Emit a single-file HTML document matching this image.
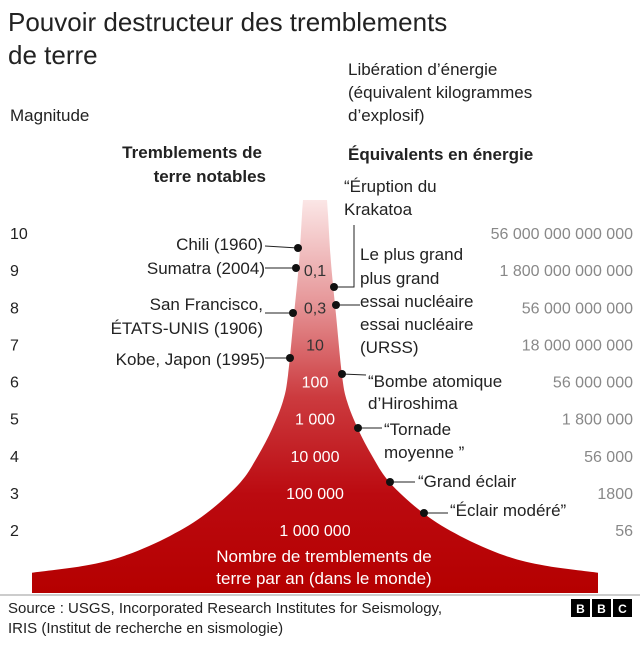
<!DOCTYPE html>
<html><head><meta charset="utf-8">
<style>
body{margin:0;background:#fff;}
svg text{font-family:"Liberation Sans",sans-serif;}
</style></head>
<body>
<svg width="640" height="643" viewBox="0 0 640 643">
<defs>
<linearGradient id="g" x1="0" y1="0" x2="0" y2="1">
<stop offset="0" stop-color="#fbe6e6"/>
<stop offset="0.25" stop-color="#e79a9c"/>
<stop offset="0.5" stop-color="#cc3b3f"/>
<stop offset="0.75" stop-color="#bb0a10"/>
<stop offset="1" stop-color="#b50000"/>
</linearGradient>
</defs>
<text x="8" y="31" font-size="26" fill="#222">Pouvoir destructeur des tremblements</text>
<text x="8" y="64" font-size="26" fill="#222">de terre</text>
<text x="10" y="121" font-size="17" fill="#222">Magnitude</text>
<g font-size="17" fill="#222">
<text x="348" y="75">Libération d’énergie</text>
<text x="348" y="98">(équivalent kilogrammes</text>
<text x="348" y="121">d’explosif)</text>
</g>
<g font-size="17" font-weight="bold" fill="#222" text-anchor="end">
<text x="262" y="158">Tremblements de</text>
<text x="266" y="182">terre notables</text>
</g>
<text x="348" y="160" font-size="17" font-weight="bold" fill="#222">Équivalents en énergie</text>
<path id="shape" fill="url(#g)" d=""/>
<g id="axes"></g>
<g font-size="17" fill="#222">
<text x="263" y="250" text-anchor="end">Chili (1960)</text>
<line x1="265" y1="246" x2="298" y2="248" stroke="#222"/><circle cx="298" cy="248" r="4" fill="#111"/>
<text x="265" y="274" text-anchor="end">Sumatra (2004)</text>
<line x1="265" y1="268" x2="296" y2="268" stroke="#222"/><circle cx="296" cy="268" r="4" fill="#111"/>
<text x="263" y="310" text-anchor="end">San Francisco,</text>
<text x="263" y="334" text-anchor="end">ÉTATS-UNIS (1906)</text>
<line x1="265" y1="313" x2="293" y2="313" stroke="#222"/><circle cx="293" cy="313" r="4" fill="#111"/>
<text x="265" y="365" text-anchor="end">Kobe, Japon (1995)</text>
<line x1="265" y1="358" x2="290" y2="358" stroke="#222"/><circle cx="290" cy="358" r="4" fill="#111"/>
<text x="344" y="192">“Éruption du</text>
<text x="344" y="215">Krakatoa</text>
<polyline points="354,225 354,287 334,287" fill="none" stroke="#222"/><circle cx="334" cy="287" r="4" fill="#111"/>
<text x="360" y="260">Le plus grand</text>
<text x="360" y="284">plus grand</text>
<text x="360" y="307">essai nucléaire</text>
<text x="360" y="330">essai nucléaire</text>
<text x="360" y="353">(URSS)</text>
<line x1="336" y1="305" x2="360" y2="305" stroke="#222"/><circle cx="336" cy="305" r="4" fill="#111"/>
<text x="368" y="387">“Bombe atomique</text>
<text x="368" y="409">d’Hiroshima</text>
<line x1="342" y1="374" x2="366" y2="375" stroke="#222"/><circle cx="342" cy="374" r="4" fill="#111"/>
<text x="384" y="435">“Tornade</text>
<text x="384" y="458">moyenne ”</text>
<line x1="358" y1="428" x2="382" y2="428" stroke="#222"/><circle cx="358" cy="428" r="4" fill="#111"/>
<text x="418" y="487">“Grand éclair</text>
<line x1="390" y1="482" x2="415" y2="482" stroke="#222"/><circle cx="390" cy="482" r="4" fill="#111"/>
<text x="450" y="516">“Éclair modéré”</text>
<line x1="424" y1="513" x2="448" y2="513" stroke="#222"/><circle cx="424" cy="513" r="4" fill="#111"/>
</g>
<g font-size="17" fill="#fff" text-anchor="middle">
<text x="324" y="562">Nombre de tremblements de</text>
<text x="324" y="584">terre par an (dans le monde)</text>
</g>
<line x1="0" y1="595" x2="640" y2="595" stroke="#999"/>
<g font-size="15" fill="#222">
<text x="8" y="613">Source : USGS, Incorporated Research Institutes for Seismology,</text>
<text x="8" y="633">IRIS (Institut de recherche en sismologie)</text>
</g>
<g font-size="12" font-weight="bold" fill="#fff" text-anchor="middle">
<rect x="571" y="599" width="19" height="18" fill="#000"/><text x="580.5" y="613">B</text>
<rect x="592" y="599" width="19" height="18" fill="#000"/><text x="601.5" y="613">B</text>
<rect x="613" y="599" width="19" height="18" fill="#000"/><text x="622.5" y="613">C</text>
</g>
</svg>
<script>
const magnitudes=[10,9,8,7,6,5,4,3,2];
const energies=["56 000 000 000 000","1 800 000 000 000","56 000 000 000","18 000 000 000","56 000 000","1 800 000","56 000","1800","56"];
const counts=["","0,1","0,3","10","100","1 000","10 000","100 000","1 000 000"];
const funnelMag=[10.89,10.5,9.2,7.8,6.17,5.47,4.72,4.0,3.27,2.44,1.84,1.31,1.04,0.85];
const funnelHalf=[12,13,16,21,27,32,43,57,75,109,145,190,230,283];
const yScale=m=>233+(10-m)*37.125;
const centerX=315;
const svgNS="http://www.w3.org/2000/svg";
const axesG=document.getElementById('axes');
magnitudes.forEach((m,i)=>{
 let t=document.createElementNS(svgNS,'text');
 
 
 t.setAttribute('x','10');t.setAttribute('y',yScale(m)+6);t.setAttribute('font-size','16');t.setAttribute('fill','#222');
 t.textContent=m;axesG.appendChild(t);
 let e=document.createElementNS(svgNS,'text');
 
 
 e.setAttribute('x','633');e.setAttribute('y',yScale(m)+6);e.setAttribute('font-size','16');e.setAttribute('fill','#888');e.setAttribute('text-anchor','end');
 e.textContent=energies[i];axesG.appendChild(e);
 if(counts[i]){
 let c=document.createElementNS(svgNS,'text');
 
 
 c.setAttribute('x',centerX);c.setAttribute('y',yScale(m)+6);c.setAttribute('font-size','16');c.setAttribute('text-anchor','middle');
 c.setAttribute('fill',m>=7?'#333':'#fff');
 c.textContent=counts[i];axesG.appendChild(c);}
});
function smooth(pts){
 let s='';
 for(let i=0;i<pts.length-1;i++){
  const p0=pts[Math.max(i-1,0)],p1=pts[i],p2=pts[i+1],p3=pts[Math.min(i+2,pts.length-1)];
  const c1=[p1[0]+(p2[0]-p0[0])/6,p1[1]+(p2[1]-p0[1])/6];
  const c2=[p2[0]-(p3[0]-p1[0])/6,p2[1]-(p3[1]-p1[1])/6];
  s+=' C'+c1[0]+','+c1[1]+' '+c2[0]+','+c2[1]+' '+p2[0]+','+p2[1];
 }
 return s;
}
const rightPts=funnelMag.map((m,i)=>[centerX+funnelHalf[i],yScale(m)]);
const leftPts=funnelMag.map((m,i)=>[centerX-funnelHalf[i],yScale(m)]).reverse();
const baseY=593;
let d='M'+rightPts[0][0]+','+rightPts[0][1]+smooth(rightPts);
d+=' L'+rightPts[rightPts.length-1][0]+','+baseY+' L'+leftPts[0][0]+','+baseY+' L'+leftPts[0][0]+','+leftPts[0][1];
d+=smooth(leftPts)+' Z';
const sh=document.getElementById('shape');
sh.setAttribute('d',d);
sh.parentNode.insertBefore(sh,axesG);
</script>
</body></html>
